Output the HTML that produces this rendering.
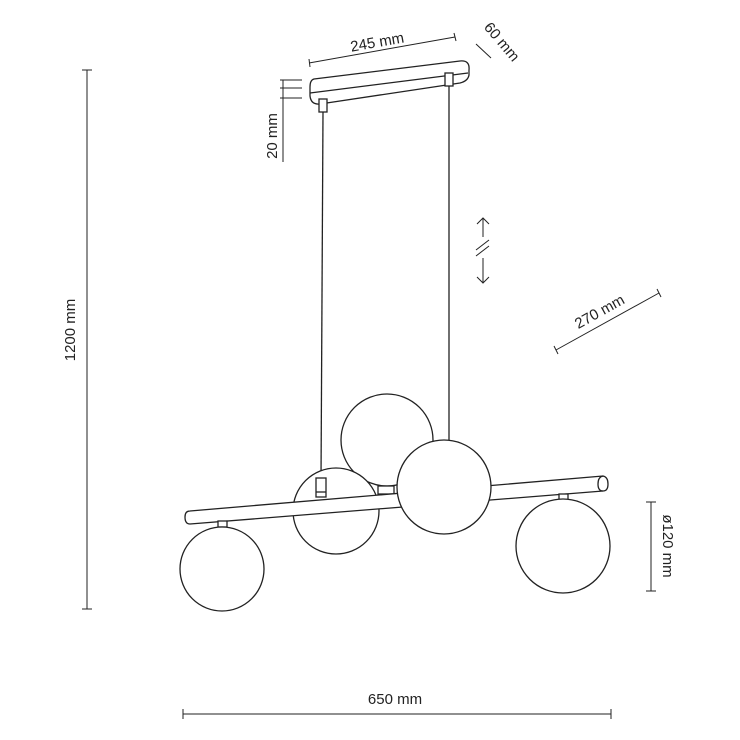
<!DOCTYPE html>
<html><head><style>body{margin:0;background:#fff}svg{display:block}text{font-family:"Liberation Sans",sans-serif;font-size:15px;fill:#222}</style></head><body>
<svg width="740" height="740" viewBox="0 0 740 740" fill="none" stroke="#222" stroke-width="1.3">
<!-- canopy -->
<path d="M314 79 L460 61 Q470 60 469 70 L469 75 Q468 81 460 83 L320 104 Q311 105 310 96 L310 87 Q310 80 314 79 Z" fill="#fff"/>
<path d="M310 93 L468 73"/>
<rect x="319" y="99" width="8" height="13" fill="#fff"/>
<rect x="445" y="73" width="8" height="13" fill="#fff"/>
<!-- wires -->
<line x1="323" y1="112" x2="321" y2="480"/>
<line x1="449" y1="86" x2="449" y2="440"/>
<!-- back globe -->
<circle cx="387" cy="440" r="46" fill="#fff"/>
<rect x="378" y="486" width="16" height="8" fill="#fff"/>
<!-- middle globe -->
<circle cx="336" cy="511" r="43" fill="#fff"/>
<!-- bar -->
<path d="M190 511 L603 476 Q608 477 608 484 Q608 491 603 491 L190 524 Q185 524 185 517 Q185 511 190 511 Z" fill="#fff"/>
<path d="M603 476 Q598 477 598 484 Q598 491 603 491"/>
<rect x="316" y="478" width="10" height="19" fill="#fff"/>
<line x1="316" y1="492" x2="326" y2="492"/>
<!-- front globe -->
<circle cx="444" cy="487" r="47" fill="#fff"/>
<!-- left globe -->
<rect x="218" y="521" width="9" height="6" fill="#fff"/>
<circle cx="222" cy="569" r="42" fill="#fff"/>
<!-- right globe -->
<rect x="559" y="494" width="9" height="6" fill="#fff"/>
<circle cx="563" cy="546" r="47" fill="#fff"/>
<!-- dimensions -->
<g stroke-width="1">
<line x1="309" y1="63" x2="455" y2="37"/><line x1="309" y1="59" x2="310" y2="67"/><line x1="454" y1="33" x2="456" y2="41"/>
<line x1="476" y1="44" x2="491" y2="58"/>
<line x1="283" y1="80" x2="283" y2="162"/><line x1="280" y1="80" x2="302" y2="80"/><line x1="280" y1="88" x2="302" y2="88"/><line x1="280" y1="98" x2="302" y2="98"/>
<line x1="87" y1="70" x2="87" y2="609"/><line x1="82" y1="70" x2="92" y2="70"/><line x1="82" y1="609" x2="92" y2="609"/>
<line x1="556" y1="350" x2="659" y2="293"/><line x1="554" y1="346" x2="558" y2="354"/><line x1="657" y1="289" x2="661" y2="297"/>
<line x1="651" y1="502" x2="651" y2="591"/><line x1="646" y1="502" x2="656" y2="502"/><line x1="646" y1="591" x2="656" y2="591"/>
<line x1="183" y1="714" x2="611" y2="714"/><line x1="183" y1="709" x2="183" y2="719"/><line x1="611" y1="709" x2="611" y2="719"/>
<line x1="483" y1="218" x2="483" y2="237"/><path d="M477 224 L483 218 L489 224"/>
<line x1="483" y1="258" x2="483" y2="283"/><path d="M477 277 L483 283 L489 277"/>
<line x1="476" y1="250" x2="489" y2="240"/><line x1="476" y1="256" x2="489" y2="246"/>
</g>
<g stroke="none">
<text x="378" y="47" text-anchor="middle" transform="rotate(-10 378 47)">245 mm</text>
<text x="498" y="45" text-anchor="middle" transform="rotate(50 498 45)">60 mm</text>
<text x="277" y="136" text-anchor="middle" transform="rotate(-90 277 136)">20 mm</text>
<text x="75" y="330" text-anchor="middle" transform="rotate(-90 75 330)">1200 mm</text>
<text x="602" y="316" text-anchor="middle" transform="rotate(-29 602 316)">270 mm</text>
<text x="663" y="546" text-anchor="middle" transform="rotate(90 663 546)">ø120 mm</text>
<text x="395" y="704" text-anchor="middle">650 mm</text>
</g>
</svg>
</body></html>
